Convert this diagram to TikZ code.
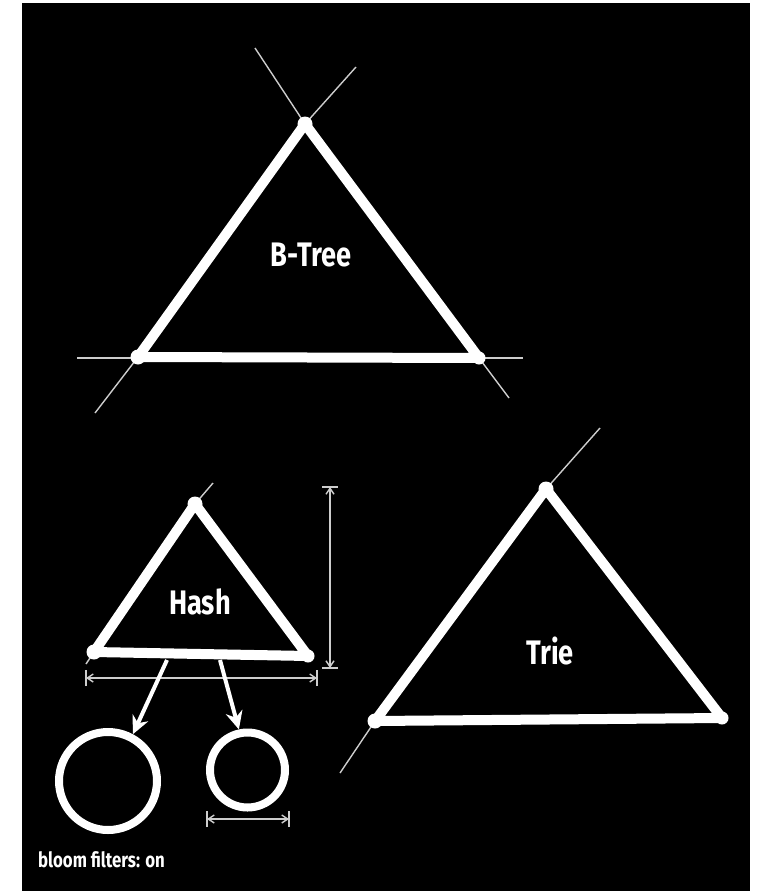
\documentclass[tikz,border=0pt]{standalone}
\usepackage{fontspec}
\usepackage{graphicx}
\setmainfont{Fira Sans}
\usetikzlibrary{arrows.meta}
\definecolor{guidegray}{RGB}{205,205,205}
\newcommand\condtext[1]{\scalebox{0.8}[1]{#1}}
\begin{document}
\begin{tikzpicture}[x=1pt,y=-1pt,
  edgeline/.style={line width=10pt, white, line cap=round, line join=round},
  guide/.style={line width=1.4pt, guidegray},
  vdot/.style={white, fill=white},
  label/.style={text=white, font=\fontsize{34}{36}\selectfont\bfseries, inner sep=0pt},
  ring/.style={circle, draw=white, line width=8pt, inner sep=0pt},
  arr/.style={white, line width=4pt, -{Stealth[length=18pt,width=17pt]}},
  dim/.style={guidegray, line width=1.4pt, {Straight Barb[length=6pt,width=8pt]}-{Straight Barb[length=6pt,width=8pt]}},
  tick/.style={guidegray, line width=1.4pt}]
% background
\fill[white] (0,0) rectangle (761,891);
\fill[black] (22,3) rectangle (750,891);
\useasboundingbox (0,0) rectangle (761,891);

% ---------- B-Tree ----------
\coordinate (bA) at (305,124);
\coordinate (bL) at (138,357);
\coordinate (bR) at (479,358);
\coordinate (bgA1) at (255,48);
\coordinate (bgA2) at (356,67);
\coordinate (bgL1) at (77,358);
\coordinate (bgL2) at (95,413);
\coordinate (bgR1) at (523,358);
\coordinate (bgR2) at (509,398);
\draw[guide] (bgA1) -- (bA);
\draw[guide] (bgA2) -- (bA);
\draw[guide] (bgL1) -- (bgR1);
\draw[guide] (bgL2) -- (bL);
\draw[guide] (bgR2) -- (bR);
\draw[edgeline] (bA) -- (bL) -- (bR) -- cycle;
\fill[vdot] (bA) circle (7.5);
\fill[vdot] (bL) circle (7.5);
\fill[vdot] (bR) circle (6.5);
\node[label] (btree) at (311,255) {\condtext{B-Tree}};

% ---------- Hash ----------
\coordinate (hA) at (195,504);
\coordinate (hL) at (94,652);
\coordinate (hR) at (308,656);
\coordinate (hgA) at (213,483);
\coordinate (hgL) at (86,664);
\draw[guide] (hgA) -- (hA);
\draw[guide] (hgL) -- (hL);
\draw[edgeline] (hA) -- (hL) -- (hR) -- cycle;
\fill[vdot] (hA) circle (7.5);
\fill[vdot] (hL) circle (7.5);
\fill[vdot] (hR) circle (6.5);
\node[label] (hash) at (200,602) {\condtext{Hash}};

% height dimension
\coordinate (hvT) at (330,487);
\coordinate (hvB) at (330,668);
\draw[dim] (hvT) -- (hvB);
\draw[tick] ([xshift=-8]hvT) -- ([xshift=8]hvT);
\draw[tick] ([xshift=-8]hvB) -- ([xshift=8]hvB);
% width dimension
\coordinate (hhL) at (86,678);
\coordinate (hhR) at (317,678);
\draw[dim] (hhL) -- (hhR);
\draw[tick] ([yshift=-8]hhL) -- ([yshift=8]hhL);
\draw[tick] ([yshift=-8]hhR) -- ([yshift=8]hhR);

% bloom filter rings
\node[ring, minimum size=98pt] (c1) at (108,781) {};
\node[ring, minimum size=75pt] (c2) at (247.5,770) {};
\coordinate (hs1) at (167,660);
\coordinate (hs2) at (220,660);
\draw[arr] (hs1) -- (c1.62);
\draw[arr] (hs2) -- (c2.102);

% ring width dimension
\coordinate (cdL) at (207,819);
\coordinate (cdR) at (289,819);
\draw[dim] (cdL) -- (cdR);
\draw[tick] ([yshift=-8]cdL) -- ([yshift=8]cdL);
\draw[tick] ([yshift=-8]cdR) -- ([yshift=8]cdR);

% ---------- Trie ----------
\coordinate (tA) at (546,489);
\coordinate (tL) at (375,721);
\coordinate (tR) at (722,718);
\coordinate (tgA) at (600,428);
\coordinate (tgL) at (340,773);
\draw[guide] (tgA) -- (tA);
\draw[guide] (tgL) -- (tL);
\draw[edgeline] (tA) -- (tL) -- (tR) -- cycle;
\fill[vdot] (tA) circle (7.5);
\fill[vdot] (tL) circle (7.5);
\fill[vdot] (tR) circle (6.5);
\node[label] (trie) at (550,651) {\condtext{Trie}};

% caption
\node[text=white, font=\fontsize{21}{23}\selectfont\bfseries, inner sep=0pt, anchor=west] (cap) at (38,860) {\condtext{bloom filters: on}};
\end{tikzpicture}
\end{document}
